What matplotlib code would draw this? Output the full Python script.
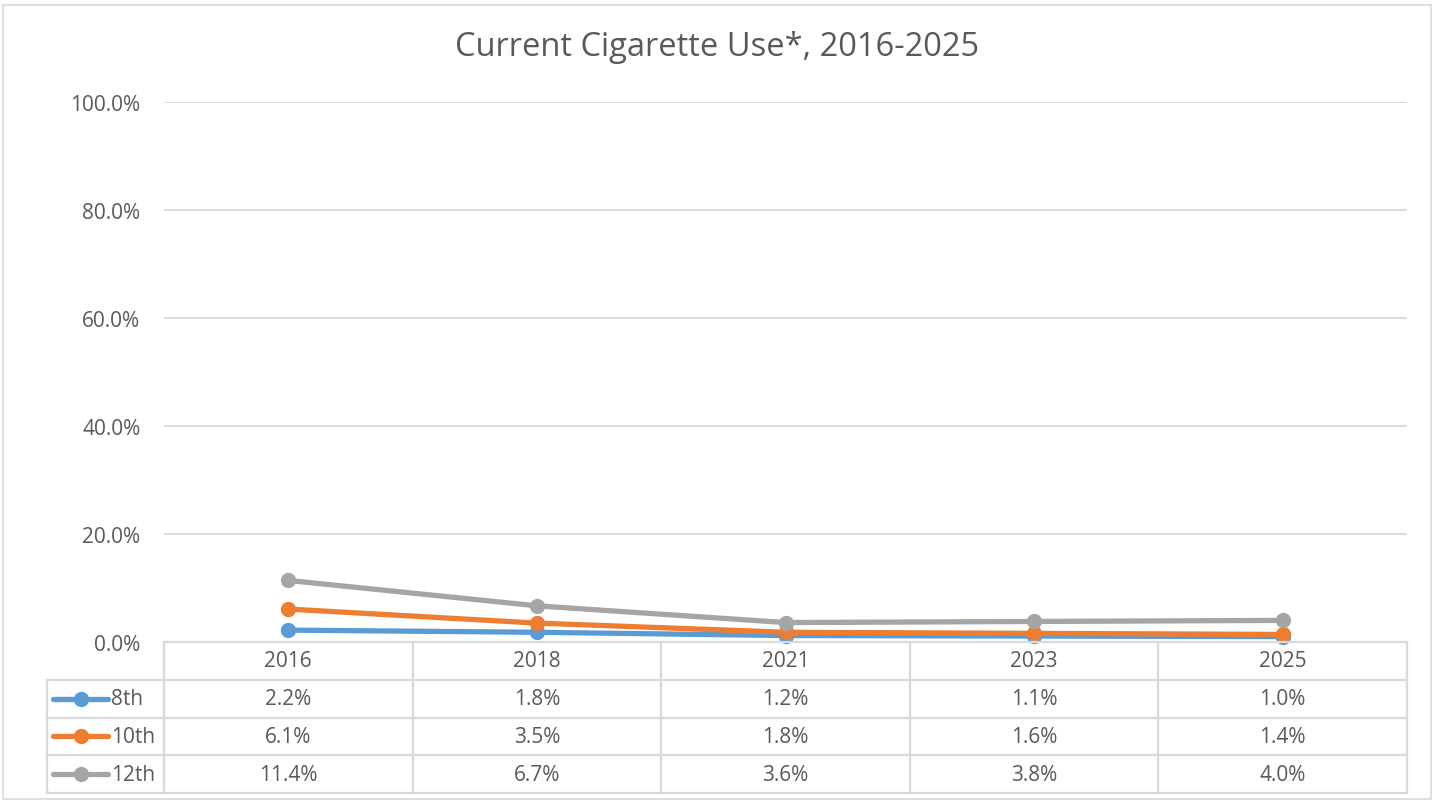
import matplotlib
matplotlib.use("Agg")
import matplotlib.pyplot as plt
from matplotlib.patches import Rectangle

plt.rcParams['font.family'] = ['Open Sans', 'DejaVu Sans']

years = ["2016", "2018", "2021", "2023", "2025"]
series_names = ["8th", "10th", "12th"]
grade8 = [2.2, 1.8, 1.2, 1.1, 1.0]
grade10 = [6.1, 3.5, 1.8, 1.6, 1.4]
grade12 = [11.4, 6.7, 3.6, 3.8, 4.0]
colors = ["#5b9bd5", "#ed7d31", "#a5a5a5"]
yticks = [0, 20, 40, 60, 80, 100]
title = "Current Cigarette Use*, 2016-2025"

W, H = 1435, 804
fig = plt.figure(figsize=(W / 100, H / 100), dpi=100)
txt = "#595959"
grid = "#d9d9d9"
fs = 15

# outer border
fig.patches.append(Rectangle((3 / W, 4 / H), 1428 / W, 794 / H, transform=fig.transFigure,
                             fill=False, edgecolor="#d9d9d9", linewidth=1.2))

px0, px1 = 164, 1407
py_top, py0 = 103, 643
ax = fig.add_axes([px0 / W, (H - py0) / H, (px1 - px0) / W, (py0 - py_top) / H])
ax.set_xlim(-0.5, len(years) - 0.5)
ax.set_ylim(0, 100)
for s in ax.spines.values():
    s.set_visible(False)
ax.set_xticks([])
ax.set_yticks(yticks)
ax.set_yticklabels([f"{v:.1f}%" for v in yticks], fontsize=fs, color=txt)
ax.tick_params(axis='y', length=0, pad=17)
for v in yticks[1:]:
    ax.axhline(v, color=grid, linewidth=1.3, zorder=0)

data = [grade8, grade10, grade12]
xs = list(range(len(years)))
for vals, c in zip(data, colors):
    ax.plot(xs, vals, color=c, linewidth=3.8, marker='o', markersize=10,
            solid_capstyle='round', clip_on=False, zorder=3)

# data table
tx0, ty1 = 47, 794
unit = (px1 - px0) / len(years)
tab = fig.add_axes([tx0 / W, (H - ty1) / H, (px1 - tx0) / W, (ty1 - py0) / H])
left = -0.5 - (px0 - tx0) / unit
tab.set_xlim(left, len(years) - 0.5)
tab.set_ylim(4, 0)
tab.axis('off')
lw = 1.6
tab.plot([-0.5, len(years) - 0.5], [0, 0], color=grid, lw=lw, clip_on=False)
for r in range(1, 5):
    tab.plot([left, len(years) - 0.5], [r, r], color=grid, lw=lw, clip_on=False)
for k in range(len(years) + 1):
    tab.plot([k - 0.5, k - 0.5], [0, 4], color=grid, lw=lw, clip_on=False)
tab.plot([left, left], [1, 4], color=grid, lw=lw, clip_on=False)

for k, y in enumerate(years):
    tab.text(k, 0.5, y, ha='center', va='center', fontsize=fs, color=txt)
for r, (name, vals, c) in enumerate(zip(series_names, data, colors), start=1):
    for k, v in enumerate(vals):
        tab.text(k, r + 0.5, f"{v:.1f}%", ha='center', va='center', fontsize=fs, color=txt)
    x_a = left + 6 / unit
    x_b = left + 61 / unit
    tab.plot([x_a, x_b], [r + 0.5, r + 0.5], color=c, lw=3.8, solid_capstyle='round')
    tab.plot([(x_a + x_b) / 2], [r + 0.5], marker='o', color=c, markersize=10)
    tab.text(left + 64 / unit, r + 0.5, name, ha='left', va='center', fontsize=fs, color=txt)

fig.text(0.5, 1 - 48 / H, title, ha='center', va='center', fontsize=23.5, color=txt)

fig.savefig("out.png", dpi=100, facecolor="white")
